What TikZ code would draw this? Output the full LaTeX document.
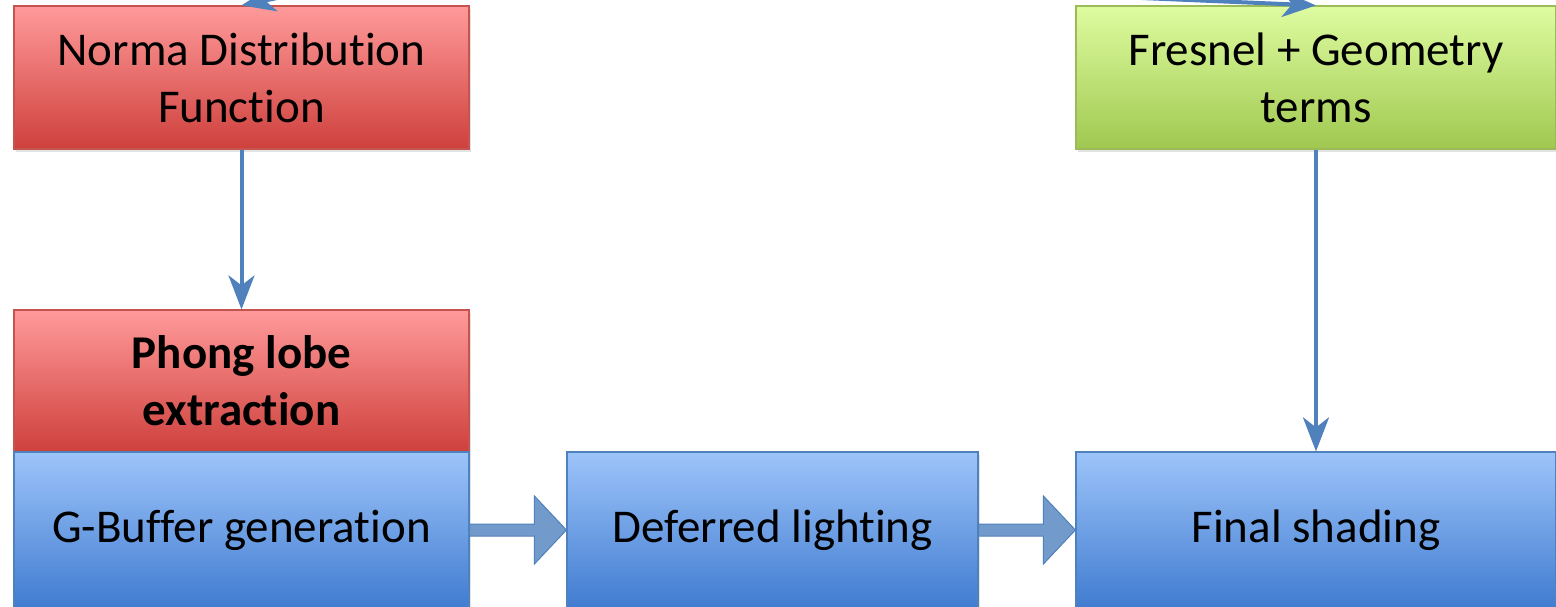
\documentclass[tikz,border=0pt]{standalone}
\usepackage{fontspec}
\setmainfont[Ligatures=NoCommon]{Carlito}
\usetikzlibrary{arrows.meta,calc,shadows}

\definecolor{redtop}{RGB}{255,154,154}
\definecolor{redbot}{RGB}{206,64,60}
\definecolor{redline}{RGB}{196,84,80}
\definecolor{greentop}{RGB}{222,252,160}
\definecolor{greenbot}{RGB}{160,200,80}
\definecolor{greenline}{RGB}{155,187,89}
\definecolor{bluetop}{RGB}{157,196,250}
\definecolor{bluebot}{RGB}{64,124,208}
\definecolor{blueline}{RGB}{79,129,189}
\definecolor{arrowblue}{RGB}{79,129,189}

\tikzset{
  stage/.style={draw, line width=1.2pt, rectangle, align=center,
    inner sep=0pt,
    font=\fontsize{47}{57}\selectfont,
    drop shadow={opacity=0.22, shadow xshift=2pt, shadow yshift=-3pt}},
  redstage/.style={stage, draw=redline, top color=redtop, bottom color=redbot},
  greenstage/.style={stage, draw=greenline, top color=greentop, bottom color=greenbot},
  bluestage/.style={stage, draw=blueline, top color=bluetop, bottom color=bluebot},
  flow/.style={draw=arrowblue, line width=4pt,
    -{Stealth[length=34pt, width=26pt, inset=10pt]}},
  blockarrow/.style={draw=blueline, line width=1pt, fill=arrowblue!80!white}
}

\begin{document}
\begin{tikzpicture}[x=1pt, y=-1pt]
  \useasboundingbox (0,0) rectangle (1556,606);
  \clip (0,0) rectangle (1556,606);
  \fill[white] (0,0) rectangle (1556,606);

  % upper row
  \node[redstage, minimum width=455pt, minimum height=143pt] (ndf) at (241.5,77.5)
    {Norma Distribution\\Function};
  \node[greenstage, minimum width=480pt, minimum height=143pt] (fg) at (1316,77.5)
    {Fresnel + Geometry\\terms};

  % lobe extraction stage
  \node[redstage, minimum width=455pt, minimum height=142pt,
        font=\fontsize{47}{57}\selectfont\bfseries] (phong) at (241.5,381)
    {Phong lobe\\extraction};

  % pipeline row
  \node[bluestage, minimum width=455pt, minimum height=156pt] (gbuf) at (241.5,530)
    {G-Buffer generation};
  \node[bluestage, minimum width=411pt, minimum height=156pt] (defl) at (772.5,530)
    {Deferred lighting};
  \node[bluestage, minimum width=480pt, minimum height=156pt] (fin) at (1316,530)
    {Final shading};

  % incoming links from above
  \coordinate (inL) at (335,-14);
  \coordinate (inR) at (1000,-8);
  \draw[flow] (inL) -- (ndf.north);
  \draw[flow] (inR) -- (fg.north);

  % vertical links
  \draw[flow] (ndf.south) -- (phong.north);
  \draw[flow] (fg.south) -- (fin.north);

  % block arrows along the pipeline
  \draw[blockarrow]
    ($(gbuf.east)+(0,-6)$) -- ($(defl.west)+(-32,-6)$) -- ($(defl.west)+(-32,-34)$)
    -- (defl.west) -- ($(defl.west)+(-32,34)$) -- ($(defl.west)+(-32,6)$)
    -- ($(gbuf.east)+(0,6)$) -- cycle;
  \draw[blockarrow]
    ($(defl.east)+(0,-6)$) -- ($(fin.west)+(-32,-6)$) -- ($(fin.west)+(-32,-34)$)
    -- (fin.west) -- ($(fin.west)+(-32,34)$) -- ($(fin.west)+(-32,6)$)
    -- ($(defl.east)+(0,6)$) -- cycle;
\end{tikzpicture}
\end{document}
